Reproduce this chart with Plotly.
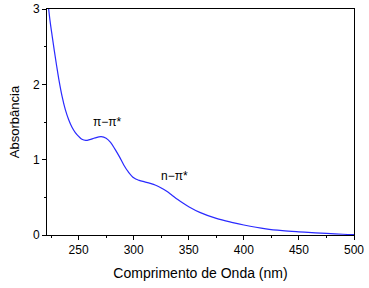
import plotly.graph_objects as go

wavelength = [222.8, 224, 226, 228, 230, 232, 235, 238, 241, 244, 247, 250, 253, 256.5, 260, 265, 270.5, 275, 279, 283, 287, 291, 295, 300, 305, 310, 315, 320, 325, 330, 335, 340, 345, 350, 360, 375, 390, 400, 420, 435, 450, 465, 475, 490, 500]
absorbance = [3.0, 2.85, 2.64, 2.44, 2.25, 2.07, 1.84, 1.66, 1.53, 1.43, 1.36, 1.31, 1.27, 1.255, 1.265, 1.29, 1.305, 1.285, 1.23, 1.14, 1.04, 0.93, 0.84, 0.76, 0.725, 0.705, 0.685, 0.66, 0.625, 0.58, 0.525, 0.47, 0.42, 0.376, 0.30, 0.22, 0.165, 0.133, 0.082, 0.058, 0.042, 0.029, 0.021, 0.01, 0.005]

labels = ["π−π*", "n−π*"]
label_x = [276, 337]
label_y = [1.5, 0.78]

fig = go.Figure()
fig.add_trace(go.Scatter(x=wavelength, y=absorbance, mode="lines",
                         line=dict(color="#2a2aff", width=1.2, shape="spline", smoothing=1.0),
                         showlegend=False))
for t, x, y in zip(labels, label_x, label_y):
    fig.add_annotation(x=x, y=y, text=t, showarrow=False,
                       font=dict(family="Liberation Sans, Arial", size=12, color="black"))

axis_common = dict(showline=True, linecolor="black", linewidth=1, mirror=True,
                   ticks="outside", ticklen=4, tickcolor="black", showgrid=False, zeroline=False,
                   tickfont=dict(family="Liberation Sans, Arial", size=12, color="black"))
fig.update_xaxes(range=[221.3, 500], tickvals=[250, 300, 350, 400, 450, 500],
                 minor=dict(ticks="outside", ticklen=2, tickvals=[225, 275, 325, 375, 425, 475], tickcolor="black"),
                 title=dict(text="Comprimento de Onda (nm)", font=dict(family="Liberation Sans, Arial", size=14, color="black"), standoff=11),
                 **axis_common)
fig.update_yaxes(range=[0, 3], tickvals=[0, 1, 2, 3],
                 minor=dict(ticks="outside", ticklen=2, tickvals=[0.5, 1.5, 2.5], tickcolor="black"),
                 title=dict(text="Absorbância", font=dict(family="Liberation Sans, Arial", size=13, color="black"), standoff=10),
                 **axis_common)
fig.update_layout(width=369, height=288, margin=dict(l=47, r=15, t=9, b=53, autoexpand=False),
                  plot_bgcolor="white", paper_bgcolor="white")
fig.write_html("out.html", config={"displayModeBar": False},
               post_script="document.body.style.margin='0';document.body.style.overflow='hidden';")
